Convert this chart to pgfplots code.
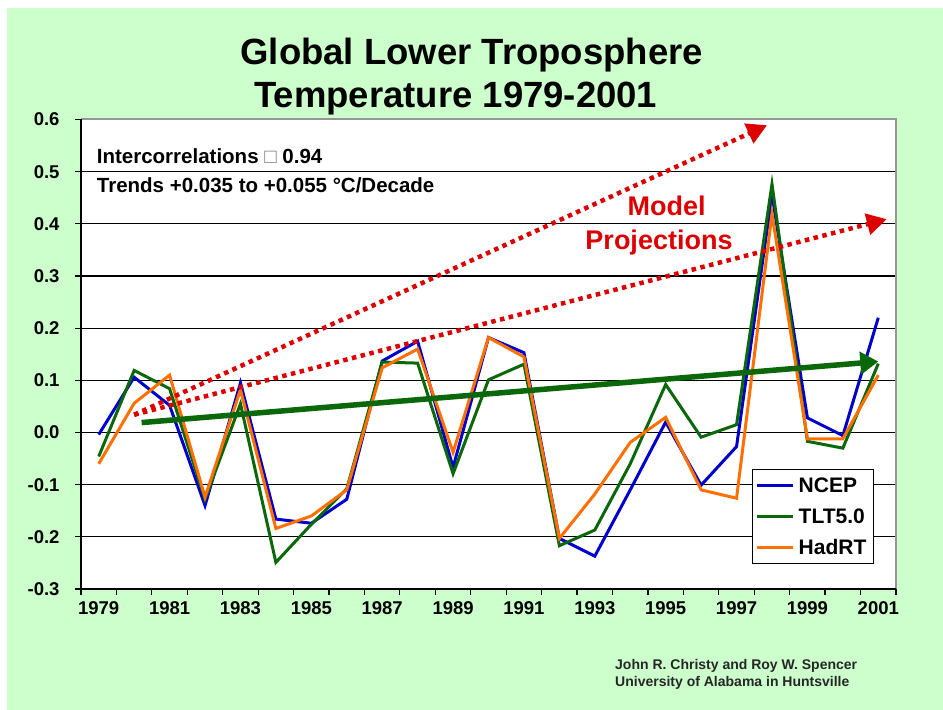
\documentclass[border=0pt]{standalone}
\usepackage{pgfplots}
\pgfplotsset{compat=1.18}
\usetikzlibrary{arrows.meta}
\usepackage{fontspec}
\setmainfont{Liberation Sans}
\definecolor{bggreen}{RGB}{204,255,204}
\definecolor{ncep}{RGB}{0,0,204}
\definecolor{tlt}{RGB}{10,104,10}
\definecolor{had}{RGB}{255,112,0}
\definecolor{projred}{RGB}{221,0,0}
\definecolor{bordergray}{RGB}{150,150,150}
\newcommand{\fs}[1]{\fontsize{#1bp}{#1bp}\selectfont}
\begin{document}
\begin{tikzpicture}
\fill[white] (0bp,0bp) rectangle (943bp,710bp);
\fill[bggreen] (7bp,0bp) rectangle (943bp,702bp);
\begin{axis}[
  at={(81bp,121bp)}, anchor=south west,
  scale only axis, width=815bp, height=469.5bp,
  xmin=1978.5, xmax=2001.5, ymin=-0.3, ymax=0.6,
  clip=false,
  axis background/.style={fill=white},
  axis line style={draw=none},
  xtick={1978.5,1979.5,...,2001.5}, xticklabels={},
  extra x ticks={1979,1981,...,2001},
  extra x tick labels={1979,1981,1983,1985,1987,1989,1991,1993,1995,1997,1999,2001},
  extra x tick style={major tick length=0pt},
  ytick={-0.3,-0.2,-0.1,0,0.1,0.2,0.3,0.4,0.5,0.6},
  yticklabels={-0.3,-0.2,-0.1,0.0,0.1,0.2,0.3,0.4,0.5,0.6},
  xtick pos=left, ytick pos=left, tick align=outside,
  major tick length=6bp,
  tick style={black, line width=1.2bp},
  ymajorgrids, grid style={black, line width=1.3bp},
  ticklabel style={font=\bfseries\fs{18.5}},
  xticklabel style={yshift=-9bp},
  yticklabel style={xshift=-12bp},
  legend style={at={(0.973,0.053)}, anchor=south east, draw=black, line width=1.2bp,
    fill=white, font=\bfseries\fs{21}, inner xsep=3bp, inner ysep=3bp, row sep=5bp,
    nodes={inner xsep=4bp, inner ysep=4bp, text height=16bp, text depth=2bp}},
  legend cell align=left,
  legend image code/.code={\draw[#1] (0bp,0bp) -- (36bp,0bp);},
]
\addplot[ncep, line width=3bp] coordinates {
(1979,-0.004) (1980,0.106) (1981,0.052) (1982,-0.140) (1983,0.095) (1984,-0.166)
(1985,-0.174) (1986,-0.128) (1987,0.137) (1988,0.175) (1989,-0.067) (1990,0.182)
(1991,0.153) (1992,-0.203) (1993,-0.237) (1994,-0.110) (1995,0.020) (1996,-0.101)
(1997,-0.027) (1998,0.456) (1999,0.028) (2000,-0.006) (2001,0.220)};
\addlegendentry{NCEP}
\addplot[tlt, line width=3bp] coordinates {
(1979,-0.046) (1980,0.119) (1981,0.084) (1982,-0.128) (1983,0.055) (1984,-0.249)
(1985,-0.176) (1986,-0.108) (1987,0.135) (1988,0.133) (1989,-0.079) (1990,0.101)
(1991,0.131) (1992,-0.217) (1993,-0.187) (1994,-0.060) (1995,0.092) (1996,-0.009)
(1997,0.015) (1998,0.476) (1999,-0.017) (2000,-0.030) (2001,0.132)};
\addlegendentry{TLT5.0}
\addplot[had, line width=3bp] coordinates {
(1979,-0.060) (1980,0.056) (1981,0.110) (1982,-0.124) (1983,0.082) (1984,-0.184)
(1985,-0.160) (1986,-0.110) (1987,0.124) (1988,0.160) (1989,-0.038) (1990,0.182)
(1991,0.145) (1992,-0.203) (1993,-0.118) (1994,-0.019) (1995,0.029) (1996,-0.110)
(1997,-0.126) (1998,0.419) (1999,-0.012) (2000,-0.012) (2001,0.110)};
\addlegendentry{HadRT}
% trend and projections
\addplot[tlt, line width=5.5bp, -{Triangle[length=18bp,width=22bp]}, forget plot]
  coordinates {(1980.21,0.019) (2001.0,0.136)};
\addplot[projred, line width=4.5bp, line cap=butt, dash pattern=on 4.5bp off 4.5bp,
  -{Triangle[length=20bp,width=21bp]}, forget plot]
  coordinates {(1980.0,0.034) (1997.86,0.589)};
\addplot[projred, line width=4.5bp, line cap=butt, dash pattern=on 4.5bp off 4.5bp,
  -{Triangle[length=20bp,width=21bp]}, forget plot]
  coordinates {(1980.0,0.034) (2001.24,0.409)};
\draw[bordergray, line width=2bp] (rel axis cs:0,1) -- (rel axis cs:1,1) -- (rel axis cs:1,0);
\draw[black, line width=1.5bp] (rel axis cs:0,1) -- (rel axis cs:0,0) -- (rel axis cs:1,0);
\end{axis}
% titles and texts
\node[anchor=base, inner sep=0pt, font=\bfseries\fs{36.5}] at (471.7bp,645bp) {Global Lower Troposphere};
\node[anchor=base, inner sep=0pt, font=\bfseries\fs{36.5}] at (455.8bp,602.7bp) {Temperature 1979-2001};
\node[anchor=base west, inner sep=0pt, font=\bfseries\fs{20.5}] at (96.7bp,546.7bp) {Intercorrelations {\mdseries\color{gray}□} 0.94};
\node[anchor=base west, inner sep=0pt, font=\bfseries\fs{20.5}] at (96.7bp,517.3bp) {Trends +0.035 to +0.055 °C/Decade};
\node[anchor=base, inner sep=0pt, font=\bfseries\fs{27}, text=projred] at (666.7bp,494bp) {Model};
\node[anchor=base, inner sep=0pt, font=\bfseries\fs{27}, text=projred] at (659bp,460bp) {Projections};
\node[anchor=base west, inner sep=0pt, font=\bfseries\fs{14}, text=black!85] at (615bp,40bp) {John R. Christy and Roy W. Spencer};
\node[anchor=base west, inner sep=0pt, font=\bfseries\fs{14}, text=black!85] at (615bp,23.3bp) {University of Alabama in Huntsville};
\pgfresetboundingbox
\useasboundingbox (0bp,0bp) rectangle (943bp,710bp);
\end{tikzpicture}
\end{document}
